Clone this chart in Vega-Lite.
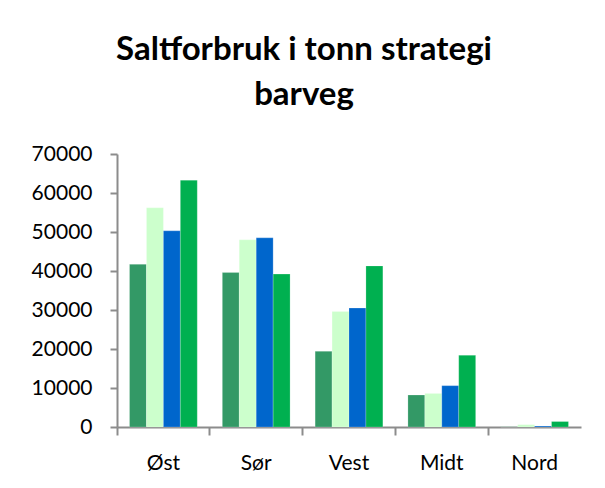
{
  "$schema": "https://vega.github.io/schema/vega-lite/v6.json",
  "width": 464,
  "height": 273,
  "autosize": {"type": "none"},
  "padding": {"left": 117, "top": 154, "right": 24, "bottom": 61},
  "background": "white",
  "title": {
    "text": ["Saltforbruk i tonn strategi", "barveg"],
    "font": "Lato",
    "fontSize": 33,
    "fontWeight": "bold",
    "color": "#000000",
    "anchor": "middle",
    "frame": "group",
    "dx": -45,
    "offset": 31,
    "lineHeight": 45
  },
  "data": {
    "values": [
      {"region": "Øst", "serie": "Serie 1", "value": 41700},
      {"region": "Øst", "serie": "Serie 2", "value": 56200},
      {"region": "Øst", "serie": "Serie 3", "value": 50300},
      {"region": "Øst", "serie": "Serie 4", "value": 63300},
      {"region": "Sør", "serie": "Serie 1", "value": 39600},
      {"region": "Sør", "serie": "Serie 2", "value": 48000},
      {"region": "Sør", "serie": "Serie 3", "value": 48500},
      {"region": "Sør", "serie": "Serie 4", "value": 39200},
      {"region": "Vest", "serie": "Serie 1", "value": 19400},
      {"region": "Vest", "serie": "Serie 2", "value": 29600},
      {"region": "Vest", "serie": "Serie 3", "value": 30500},
      {"region": "Vest", "serie": "Serie 4", "value": 41300},
      {"region": "Midt", "serie": "Serie 1", "value": 8200},
      {"region": "Midt", "serie": "Serie 2", "value": 8600},
      {"region": "Midt", "serie": "Serie 3", "value": 10600},
      {"region": "Midt", "serie": "Serie 4", "value": 18400},
      {"region": "Nord", "serie": "Serie 1", "value": 50},
      {"region": "Nord", "serie": "Serie 2", "value": 600},
      {"region": "Nord", "serie": "Serie 3", "value": 250},
      {"region": "Nord", "serie": "Serie 4", "value": 1400}
    ]
  },
  "mark": {"type": "bar", "stroke": "#ffffff", "strokeOpacity": 0.4, "strokeWidth": 0.5},
  "encoding": {
    "x": {
      "field": "region",
      "type": "nominal",
      "sort": ["Øst", "Sør", "Vest", "Midt", "Nord"],
      "scale": {"paddingInner": 0, "paddingOuter": 0},
      "axis": {
        "title": null,
        "bandPosition": 0,
        "labelAngle": 0,
        "labelFont": "Lato",
        "labelFontSize": 21,
        "labelColor": "#000000",
        "labelPadding": 17,
        "tickSize": 8,
        "tickColor": "#8c8c8c",
        "tickWidth": 2,
        "domainColor": "#8c8c8c",
        "domainWidth": 2,
        "grid": false
      }
    },
    "xOffset": {
      "field": "serie",
      "type": "nominal",
      "scale": {"paddingInner": 0, "paddingOuter": 0.74}
    },
    "y": {
      "field": "value",
      "type": "quantitative",
      "scale": {"domain": [0, 70000], "nice": false},
      "axis": {
        "title": null,
        "values": [0, 10000, 20000, 30000, 40000, 50000, 60000, 70000],
        "format": "d",
        "labelFont": "Lato",
        "labelFontSize": 21,
        "labelColor": "#000000",
        "labelPadding": 18,
        "tickSize": 7,
        "tickColor": "#8c8c8c",
        "tickWidth": 2,
        "domainColor": "#8c8c8c",
        "domainWidth": 2,
        "grid": false
      }
    },
    "color": {
      "field": "serie",
      "type": "nominal",
      "scale": {
        "domain": ["Serie 1", "Serie 2", "Serie 3", "Serie 4"],
        "range": ["#339966", "#ccffcc", "#0066cc", "#00b050"]
      },
      "legend": null
    }
  },
  "config": {"view": {"stroke": null}}
}
